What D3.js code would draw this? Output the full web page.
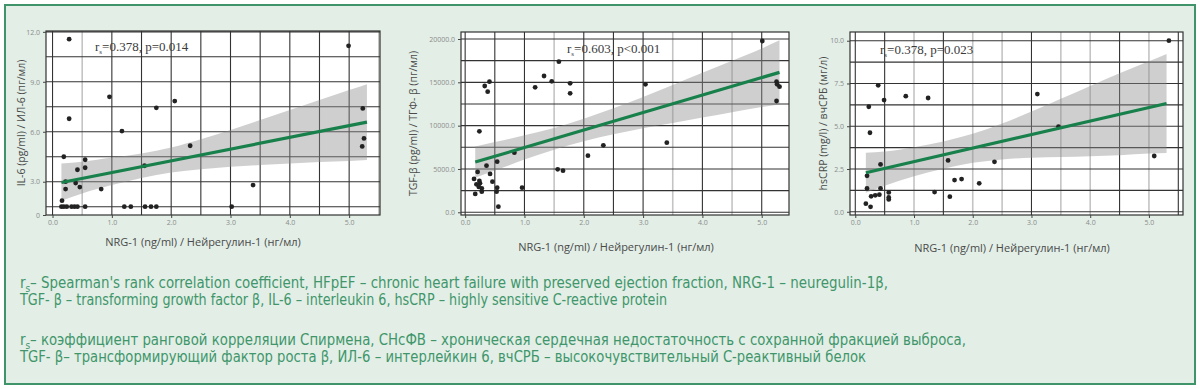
<!DOCTYPE html>
<html>
<head>
<meta charset="utf-8">
<script src="https://cdn.jsdelivr.net/npm/d3@7"></script>
<style>
	body { margin: 0; background: #fff; }
	svg { display: block; }
	.tick text { font-family: 'Open Sans', sans-serif; font-size: 7px; fill: #8c8c8c; }
	.tick line { stroke: #444; }
</style>
</head>
<body>
<svg id="chart" width="1200" height="389"></svg>
<script>
// NRG-1 (x) vs marker (y)
const il6Points = [
	[0.28, 11.56], [4.99, 11.16], [0.96, 8.1], [2.06, 7.84], [1.75, 7.44], [0.28, 6.78],
	[1.17, 6.04], [5.23, 7.4], [5.25, 5.6], [5.22, 5.12], [2.32, 5.16], [0.19, 4.5],
	[0.55, 4.32], [0.55, 3.84], [0.42, 3.72], [1.55, 3.96], [0.22, 3.0], [0.39, 2.92],
	[0.22, 2.56], [0.46, 2.68], [0.82, 2.56], [3.38, 2.8], [0.16, 1.86], [0.15, 1.5],
	[0.19, 1.5], [0.24, 1.5], [0.32, 1.5], [0.37, 1.5], [0.42, 1.5], [0.55, 1.5],
	[1.21, 1.5], [1.32, 1.5], [1.56, 1.5], [1.66, 1.5], [1.75, 1.5], [3.02, 1.5]
];
const tgfPoints = [
	[5.01, 19770], [1.58, 17385], [1.33, 15730], [1.46, 15115], [0.41, 15077], [0.33, 14577],
	[0.38, 13923], [1.18, 14423], [1.77, 14885], [1.77, 13730], [3.04, 14770], [5.25, 15077],
	[5.26, 14770], [5.3, 14500], [5.25, 12846], [0.24, 9346], [0.83, 6885], [2.33, 7730],
	[3.4, 8038], [2.07, 6538], [0.54, 5846], [0.36, 5385], [1.56, 4962], [1.65, 4808],
	[0.21, 4654], [0.42, 4423], [0.15, 3846], [0.46, 3538], [0.19, 3230], [0.25, 3346],
	[0.23, 2923], [0.28, 2769], [0.54, 2846], [0.53, 2385], [0.96, 2846], [0.17, 2115],
	[0.28, 2385], [0.56, 654], [0.24, 3615]
];
const crpPoints = [
	[5.34, 10.0], [0.39, 7.39], [0.49, 6.53], [0.23, 6.14], [0.86, 6.76], [1.24, 6.65],
	[3.1, 6.88], [0.25, 4.62], [3.46, 4.97], [1.58, 3.0], [0.43, 2.77], [2.37, 2.92],
	[5.09, 3.26], [1.69, 1.85], [1.81, 1.91], [2.11, 1.66], [0.2, 2.1], [0.2, 1.36],
	[0.43, 1.36], [0.57, 1.13], [1.35, 1.15], [0.27, 0.9], [0.34, 0.96], [0.41, 1.0],
	[0.57, 0.84], [0.57, 0.72], [1.61, 0.88], [0.18, 0.47], [0.26, 0.29]
];

// regression lines (start, end)
const il6Fit = [[0.15, 2.95], [5.3, 6.58]];
const tgfFit = [[0.17, 5800], [5.3, 16150]];
const crpFit = [[0.18, 2.28], [5.3, 6.33]];

// confidence bands
const il6BandX = [0.15, 0.5, 1, 1.5, 2, 2.5, 3, 3.5, 4, 4.5, 5, 5.3];
const il6BandHi = [4.1, 4.2, 4.45, 4.7, 5.05, 5.55, 6.1, 6.7, 7.3, 7.9, 8.5, 8.85];
const il6BandLo = [1.85, 2.3, 2.8, 3.23, 3.55, 3.75, 3.9, 4.0, 4.1, 4.18, 4.25, 4.3];
const tgfBandX = [0.17, 0.5, 1, 1.5, 2, 2.5, 3, 3.5, 4, 4.5, 5, 5.3];
const tgfBandHi = [7600, 8100, 8880, 9730, 10790, 12000, 13300, 14700, 16100, 17500, 18900, 19850];
const tgfBandLo = [4000, 4820, 6080, 7230, 8190, 9000, 9710, 10320, 10930, 11540, 12150, 12450];
const crpBandX = [0.18, 0.5, 1, 1.5, 2, 2.5, 3, 3.5, 4, 4.5, 5, 5.3];
const crpBandHi = [3.45, 3.52, 3.77, 4.11, 4.56, 5.16, 5.86, 6.6, 7.35, 8.1, 8.8, 9.23];
const crpBandLo = [1.11, 1.52, 2.07, 2.51, 2.86, 3.06, 3.16, 3.2, 3.25, 3.3, 3.4, 3.43];

// ticks
const xTicks = [0, 1, 2, 3, 4, 5];
const xGrid = [0, 0.5, 1, 1.5, 2, 2.5, 3, 3.5, 4, 4.5, 5, 5.5];
const il6Ticks = [0, 3, 6, 9, 12];
const il6TickLabels = ['0', '3.0', '6.0', '9.0', '12.0'];
const il6Grid = [1.5, 3, 4.5, 6, 7.5, 9, 10.5, 12];
const tgfTicks = [0, 5000, 10000, 15000, 20000];
const tgfGrid = [0, 2500, 5000, 7500, 10000, 12500, 15000, 17500, 20000];
const crpTicks = [0, 2.5, 5, 7.5, 10];
const crpGrid = [0, 1.25, 2.5, 3.75, 5, 6.25, 7.5, 8.75, 10];

const xTitle = 'NRG-1 (ng/ml)  /  Нейрегулин-1 (нг/мл)';
const yTitles = ['IL-6 (pg/ml) / ИЛ-6 (пг/мл)', 'TGF-β (pg/ml) / ТГФ- β (пг/мл)', 'hsCRP (mg/l) / вчСРБ (мг/л)'];
const stats = ['=0.378, p=0.014', '=0.603, p<0.001', '=0.378, p=0.023'];

const notes = [
	' – Spearman\'s rank correlation coefficient, HFpEF – chronic heart failure with preserved ejection fraction, NRG-1 – neuregulin-1β,',
	'TGF- β – transforming growth factor β, IL-6 – interleukin 6, hsCRP – highly sensitive C-reactive protein',
	' – коэффициент ранговой корреляции Спирмена, СНсФВ – хроническая сердечная недостаточность с сохранной фракцией выброса,',
	'TGF- β– трансформирующий фактор роста β, ИЛ-6 – интерлейкин 6, вчСРБ – высокочувствительный С-реактивный белок'
];

const BG = '#e2eee6';
const FRAME = '#3f9469';
const NOTE = '#40966a';
const GREEN = '#18804b';
const GRID = '#333';
const FAINT = '#c4c4c4';

const $svg = d3.select('#chart');

const zip = (xs, hi, lo) => xs.map((d, i) => ({ x: d, hi: hi[i], lo: lo[i] }));

const panels = [
	{
		box: { left: 46, right: 380, top: 31, bottom: 215 },
		xDomain: [-0.11, 5.52],
		yDomain: [0, 1.5, 12.05],
		yRange: [215, 206.7, 31],
		points: il6Points, fit: il6Fit, band: zip(il6BandX, il6BandHi, il6BandLo),
		yTicks: il6Ticks, yFmt: (d, i) => il6TickLabels[i], yGrid: il6Grid,
		faint: [0.5, 5.5],
		yTitle: yTitles[0], yTitleX: 21, xTitleX: 203, xTitleY: 246,
		stat: stats[0], statX: 95, statY: 51
	},
	{
		box: { left: 461, right: 789, top: 32, bottom: 215 },
		xDomain: [-0.07, 5.46],
		yDomain: [-312, 20808],
		yRange: [215, 32],
		points: tgfPoints, fit: tgfFit, band: zip(tgfBandX, tgfBandHi, tgfBandLo),
		yTicks: tgfTicks, yFmt: d3.format('.1f'), yGrid: tgfGrid,
		faint: [1.5, 3.5, 4.5],
		yTitle: yTitles[1], yTitleX: 413, xTitleX: 616, xTitleY: 251,
		stat: stats[1], statX: 567, statY: 53
	},
	{
		box: { left: 850, right: 1183, top: 32, bottom: 215 },
		xDomain: [-0.09, 5.58],
		yDomain: [-0.19, 10.51],
		yRange: [215, 32],
		points: crpPoints, fit: crpFit, band: zip(crpBandX, crpBandHi, crpBandLo),
		yTicks: crpTicks, yFmt: d3.format('.1f'), yGrid: crpGrid,
		faint: [1, 2, 2.5, 3.5, 4, 5],
		yTitle: yTitles[2], yTitleX: 823, xTitleX: 1012, xTitleY: 252,
		stat: stats[2], statX: 880, statY: 54
	}
];

function drawFrame() {
	$svg.append('rect')
		.attr('x', 5).attr('y', 5)
		.attr('width', 1190).attr('height', 379)
		.attr('fill', BG)
		.attr('stroke', FRAME)
		.attr('stroke-width', 2);
}

function drawPanel(p) {
	const { box } = p;
	const $g = $svg.append('g');
	const x = d3.scaleLinear().domain(p.xDomain).range([box.left, box.right]);
	const y = d3.scaleLinear().domain(p.yDomain).range(p.yRange);

	$g.append('rect')
		.attr('x', box.left).attr('y', box.top)
		.attr('width', box.right - box.left).attr('height', box.bottom - box.top)
		.attr('fill', '#fff');

	const xs = xGrid.filter(d => x(d) > box.left + 1 && x(d) < box.right - 1);
	$g.selectAll('.vgrid')
		.data(xs)
		.enter()
		.append('line')
		.attr('x1', d => x(d)).attr('x2', d => x(d))
		.attr('y1', box.top).attr('y2', box.bottom)
		.attr('stroke', d => (p.faint.includes(d) ? FAINT : GRID))
		.attr('stroke-width', d => (p.faint.includes(d) ? 1.6 : 1.1));

	$g.selectAll('.hgrid')
		.data(p.yGrid)
		.enter()
		.append('line')
		.attr('x1', box.left).attr('x2', box.right)
		.attr('y1', d => y(d)).attr('y2', d => y(d))
		.attr('stroke', GRID)
		.attr('stroke-width', 1.1);

	const area = d3.area()
		.x(d => x(d.x))
		.y0(d => y(d.lo))
		.y1(d => y(d.hi))
		.curve(d3.curveMonotoneX);

	$g.append('path')
		.datum(p.band)
		.attr('d', area)
		.attr('fill', '#8c8c8c')
		.attr('fill-opacity', 0.42);

	$g.selectAll('.dot')
		.data(p.points)
		.enter()
		.append('circle')
		.attr('cx', d => x(d[0]))
		.attr('cy', d => y(d[1]))
		.attr('r', 2.4)
		.attr('fill', '#222');

	$g.append('path')
		.datum(p.fit)
		.attr('d', d3.line().x(d => x(d[0])).y(d => y(d[1])))
		.attr('stroke', GREEN)
		.attr('stroke-width', 3.2)
		.attr('fill', 'none');

	$g.append('rect')
		.attr('x', box.left).attr('y', box.top)
		.attr('width', box.right - box.left).attr('height', box.bottom - box.top)
		.attr('fill', 'none')
		.attr('stroke', GRID)
		.attr('stroke-width', 1.2);

	const xAxis = d3.axisBottom(x).tickValues(xTicks).tickFormat(d3.format('.1f')).tickSize(3).tickPadding(2);
	$g.append('g')
		.attr('transform', `translate(0,${box.bottom})`)
		.call(xAxis)
		.call(s => s.select('.domain').remove());

	const yAxis = d3.axisLeft(y).tickValues(p.yTicks).tickFormat(p.yFmt).tickSize(3).tickPadding(3);
	$g.append('g')
		.attr('transform', `translate(${box.left},0)`)
		.call(yAxis)
		.call(s => s.select('.domain').remove());

	$g.append('text')
		.attr('x', p.xTitleX).attr('y', p.xTitleY)
		.attr('text-anchor', 'middle')
		.style('font-family', "'Open Sans', sans-serif")
		.style('font-size', '11px')
		.attr('fill', '#4a4a4a')
		.text(xTitle);

	$g.append('text')
		.attr('transform', `translate(${p.yTitleX},${(box.top + box.bottom) / 2}) rotate(-90)`)
		.attr('text-anchor', 'middle')
		.attr('dy', '0.35em')
		.style('font-family', "'Open Sans', sans-serif")
		.style('font-size', '10.5px')
		.attr('fill', '#4a4a4a')
		.text(p.yTitle);

	const $stat = $g.append('text')
		.attr('x', p.statX).attr('y', p.statY)
		.style('font-family', "'Liberation Serif', serif")
		.style('font-size', '13px')
		.attr('fill', '#3a3a3a');
	$stat.append('tspan').text('r');
	$stat.append('tspan').attr('dy', 3).style('font-size', '7px').text('s');
	$stat.append('tspan').attr('dy', -3).text(p.stat);
}

function drawNotes() {
	const lines = [
		{ y: 288, sub: true, end: 888 },
		{ y: 305, sub: false, end: 667 },
		{ y: 345, sub: true, end: 966 },
		{ y: 362, sub: false, end: 866 }
	];
	const font = "'Liberation Sans Narrow', 'DejaVu Sans Condensed', sans-serif";
	lines.forEach((l, i) => {
		let start = 20;
		if (l.sub) {
			const $r = $svg.append('text')
				.attr('x', 20).attr('y', l.y)
				.style('font-family', font)
				.style('font-size', '15px')
				.attr('fill', NOTE);
			$r.append('tspan').text('r');
			$r.append('tspan').attr('dy', 4).style('font-size', '10px').text('s');
			start = 30;
		}
		$svg.append('text')
			.attr('x', start).attr('y', l.y)
			.attr('textLength', l.end - start)
			.attr('lengthAdjust', 'spacingAndGlyphs')
			.style('font-family', font)
			.style('font-size', '15px')
			.attr('fill', NOTE)
			.text(notes[i]);
	});
}

drawFrame();
panels.forEach(drawPanel);
drawNotes();
</script>
</body>
</html>
